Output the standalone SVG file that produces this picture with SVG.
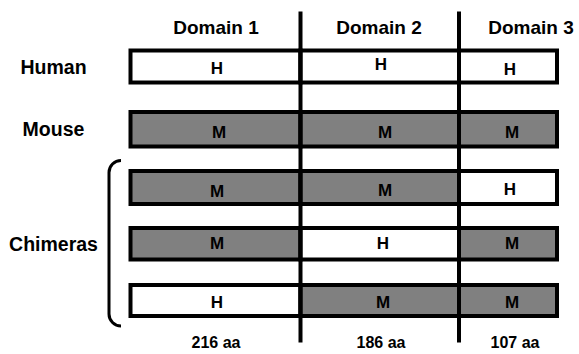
<svg xmlns="http://www.w3.org/2000/svg" width="579" height="354" viewBox="0 0 579 354">
<style>
text{font-family:"Liberation Sans",Arial,sans-serif;font-weight:bold;fill:#000;text-anchor:middle}
.hdr{font-size:19px}
.lbl{font-size:19.5px}
.seg{font-size:17px}
.aa{font-size:16px}
.m{fill:#808080;stroke:#000;stroke-width:4}
.h{fill:#fff;stroke:#000;stroke-width:4}
.div{stroke:#000;stroke-width:4;fill:none}
.br{stroke:#000;stroke-width:3;fill:none}
</style>
<rect width="579" height="354" fill="#fff"/>
<g id="headers">
<text class="hdr" x="216" y="34">Domain 1</text>
<text class="hdr" x="379" y="34">Domain 2</text>
<text class="hdr" x="531" y="34">Domain 3</text>
</g>
<g id="row-labels">
<text class="lbl" x="53.5" y="74">Human</text>
<text class="lbl" x="53.5" y="136">Mouse</text>
<text class="lbl" x="53.5" y="251">Chimeras</text>
</g>
<g id="human">
<rect class="h" x="130.5" y="50.5" width="170" height="32"/>
<rect class="h" x="300.5" y="50.5" width="158.5" height="32"/>
<rect class="h" x="459" y="50.5" width="98" height="32"/>
<text class="seg" x="217" y="74">H</text>
<text class="seg" x="381" y="70">H</text>
<text class="seg" x="510" y="75">H</text>
</g>
<g id="mouse">
<rect class="m" x="130.5" y="112" width="170" height="34.5"/>
<rect class="m" x="300.5" y="112" width="158.5" height="34.5"/>
<rect class="m" x="459" y="112" width="98" height="34.5"/>
<text class="seg" x="219" y="138">M</text>
<text class="seg" x="385" y="138">M</text>
<text class="seg" x="512" y="138">M</text>
</g>
<g id="chimera1">
<rect class="m" x="130.5" y="171" width="170" height="33"/>
<rect class="m" x="300.5" y="171" width="158.5" height="33"/>
<rect class="h" x="459" y="171" width="98" height="33"/>
<text class="seg" x="217" y="197">M</text>
<text class="seg" x="385" y="196">M</text>
<text class="seg" x="510" y="195">H</text>
</g>
<g id="chimera2">
<rect class="m" x="130.5" y="228" width="170" height="31.5"/>
<rect class="h" x="300.5" y="228" width="158.5" height="31.5"/>
<rect class="m" x="459" y="228" width="98" height="31.5"/>
<text class="seg" x="217" y="249">M</text>
<text class="seg" x="383" y="249">H</text>
<text class="seg" x="512" y="249">M</text>
</g>
<g id="chimera3">
<rect class="h" x="130.5" y="285" width="170" height="31"/>
<rect class="m" x="300.5" y="285" width="158.5" height="31"/>
<rect class="m" x="459" y="285" width="98" height="31"/>
<text class="seg" x="217" y="308">H</text>
<text class="seg" x="383" y="308">M</text>
<text class="seg" x="512" y="308">M</text>
</g>
<g id="connectors">
<line class="div" x1="300.5" y1="11.5" x2="300.5" y2="342.5"/>
<line class="div" x1="459" y1="11.5" x2="459" y2="342.5"/>
<path class="br" d="M121,160.5 A12,12 0 0 0 109,172.5 L109,314 A12,12 0 0 0 121,326"/>
</g>
<g id="lengths">
<text class="aa" x="216" y="348">216 aa</text>
<text class="aa" x="381" y="348">186 aa</text>
<text class="aa" x="515" y="348">107 aa</text>
</g>
</svg>
